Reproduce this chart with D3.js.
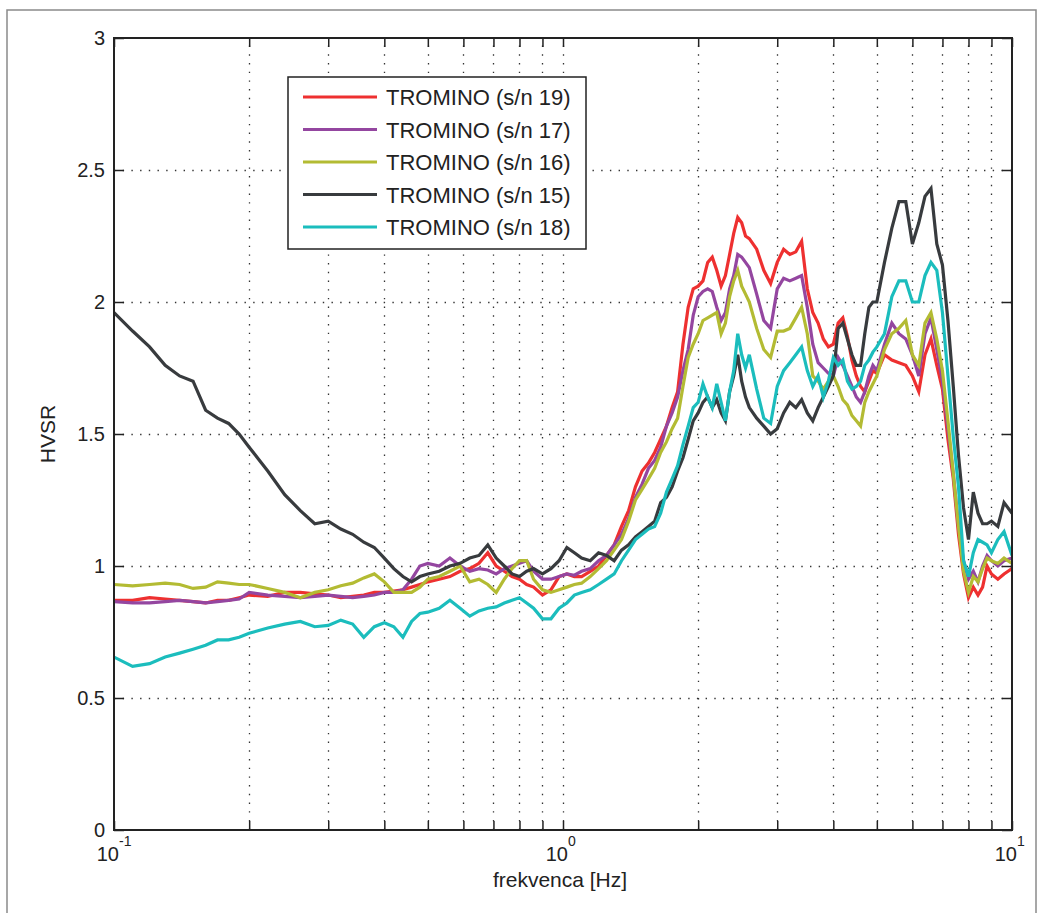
<!DOCTYPE html>
<html>
<head>
<meta charset="utf-8">
<script src="https://cdnjs.cloudflare.com/ajax/libs/d3/7.8.5/d3.min.js"></script>
<style>
body { margin: 0; background: #fff; }
text { font-family: "Liberation Sans", Arial, sans-serif; fill: #222; }
</style>
</head>
<body>
<script>
// frequency grid [Hz]
var freq = [0.10,0.11,0.12,0.13,0.14,0.15,0.16,0.17,0.18,0.19,0.20,
	0.22,0.24,0.26,0.28,0.30,0.32,0.34,0.36,0.38,0.40,0.42,0.44,0.46,0.48,0.50,
	0.53,0.56,0.59,0.62,0.65,0.68,0.71,0.74,0.77,0.80,0.83,0.86,
	0.90,0.94,0.98,1.02,1.06,1.10,
	1.15,1.20,1.25,1.30,1.35,1.40,1.45,1.50,1.55,1.60,1.65,1.70,1.75,1.80,1.85,1.90,1.95,2.00,2.05,2.10,2.15,2.20,2.25,2.30,2.35,2.40,2.45,2.50,2.55,2.60,
	2.70,2.80,2.90,3.00,3.10,3.20,3.30,3.40,3.50,3.60,3.70,3.80,3.90,
	4.0,4.1,4.2,4.3,4.4,4.5,4.6,4.7,4.8,4.9,5.0,
	5.2,5.4,5.6,5.8,6.0,6.2,6.4,6.6,6.8,7.0,7.2,7.4,7.6,7.8,8.0,8.2,8.4,8.6,8.8,9.0,
	9.3,9.6,10.0];

// HVSR curves
var sn19 = [0.87,0.87,0.88,0.875,0.87,0.865,0.86,0.87,0.87,0.88,0.89,
	0.885,0.90,0.90,0.895,0.89,0.88,0.885,0.89,0.90,0.90,0.905,0.91,0.92,0.93,0.94,
	0.95,0.96,0.98,0.99,1.01,1.05,1.00,0.98,0.96,0.95,0.93,0.92,
	0.89,0.91,0.96,0.97,0.96,0.96,
	0.98,1.00,1.04,1.08,1.15,1.21,1.30,1.36,1.39,1.43,1.48,1.53,1.60,1.66,1.84,1.98,2.05,2.06,2.08,2.15,2.17,2.12,2.06,2.10,2.18,2.26,2.32,2.30,2.25,2.24,
	2.20,2.12,2.07,2.15,2.20,2.18,2.19,2.23,2.05,1.96,1.92,1.86,1.83,
	1.84,1.92,1.94,1.87,1.78,1.72,1.68,1.66,1.70,1.74,1.73,
	1.80,1.78,1.77,1.76,1.72,1.66,1.80,1.86,1.76,1.67,1.48,1.33,1.12,0.97,0.88,0.92,0.89,0.92,1.00,0.97,
	0.95,0.97,0.99];

var sn17 = [0.865,0.86,0.86,0.865,0.87,0.865,0.86,0.865,0.87,0.875,0.90,
	0.89,0.885,0.88,0.885,0.89,0.885,0.88,0.885,0.89,0.90,0.90,0.91,0.95,1.00,1.01,
	1.00,1.03,1.00,0.98,0.99,0.985,0.97,0.99,1.00,1.01,1.02,0.98,
	0.95,0.95,0.96,0.97,0.965,0.98,
	0.99,1.02,1.04,1.08,1.12,1.18,1.26,1.31,1.37,1.40,1.45,1.53,1.58,1.64,1.74,1.82,1.95,2.02,2.04,2.05,2.04,1.98,1.93,1.96,2.05,2.10,2.18,2.17,2.15,2.13,
	2.03,1.93,1.90,2.05,2.09,2.08,2.09,2.10,1.98,1.84,1.77,1.75,1.73,
	1.72,1.79,1.76,1.72,1.68,1.64,1.62,1.66,1.72,1.76,1.74,
	1.84,1.92,1.88,1.86,1.80,1.72,1.88,1.94,1.82,1.70,1.52,1.35,1.15,1.02,0.95,0.98,0.94,1.00,1.04,1.02,
	1.00,1.02,1.03];

var sn16 = [0.93,0.925,0.93,0.935,0.93,0.915,0.92,0.94,0.935,0.93,0.93,
	0.915,0.90,0.88,0.90,0.91,0.925,0.935,0.955,0.97,0.94,0.90,0.90,0.90,0.92,0.95,
	0.96,0.98,1.00,0.94,0.95,0.93,0.90,0.95,0.99,1.02,1.02,0.95,
	0.91,0.90,0.91,0.92,0.93,0.935,
	0.96,0.99,1.02,1.06,1.10,1.17,1.25,1.29,1.33,1.37,1.43,1.47,1.52,1.56,1.68,1.79,1.84,1.88,1.93,1.94,1.95,1.96,1.88,1.92,2.02,2.08,2.12,2.06,2.03,2.00,
	1.90,1.82,1.79,1.89,1.89,1.90,1.94,1.98,1.88,1.72,1.70,1.67,1.70,
	1.72,1.68,1.63,1.61,1.57,1.55,1.53,1.62,1.66,1.69,1.72,
	1.82,1.88,1.90,1.93,1.80,1.76,1.92,1.96,1.86,1.74,1.55,1.35,1.15,0.98,0.90,0.96,0.94,0.99,1.03,1.02,
	1.01,1.03,1.01];

var sn15 = [1.96,1.89,1.83,1.76,1.72,1.70,1.59,1.56,1.54,1.50,1.45,
	1.36,1.27,1.21,1.16,1.17,1.14,1.12,1.09,1.07,1.03,0.99,0.96,0.94,0.96,0.97,
	0.98,1.00,1.01,1.03,1.04,1.08,1.03,1.00,0.97,0.96,0.98,0.99,
	0.97,0.99,1.02,1.07,1.05,1.03,
	1.02,1.05,1.04,1.02,1.06,1.08,1.11,1.13,1.15,1.17,1.24,1.26,1.30,1.36,1.41,1.48,1.55,1.58,1.62,1.64,1.60,1.63,1.58,1.55,1.66,1.72,1.80,1.70,1.64,1.60,
	1.56,1.53,1.50,1.52,1.58,1.62,1.60,1.63,1.58,1.55,1.60,1.64,1.68,
	1.72,1.90,1.92,1.86,1.80,1.76,1.76,1.88,1.98,2.00,2.00,
	2.15,2.28,2.38,2.38,2.22,2.30,2.40,2.43,2.22,2.14,1.93,1.68,1.42,1.22,1.10,1.28,1.20,1.16,1.16,1.17,
	1.15,1.24,1.20];

var sn18 = [0.655,0.62,0.63,0.655,0.67,0.685,0.70,0.72,0.72,0.73,0.745,
	0.765,0.78,0.79,0.77,0.775,0.795,0.78,0.73,0.77,0.785,0.77,0.73,0.79,0.82,0.825,
	0.84,0.87,0.84,0.81,0.83,0.84,0.845,0.86,0.87,0.88,0.86,0.84,
	0.80,0.80,0.84,0.86,0.89,0.90,
	0.91,0.93,0.95,0.97,1.02,1.06,1.10,1.12,1.14,1.15,1.20,1.28,1.33,1.38,1.46,1.53,1.60,1.62,1.69,1.64,1.60,1.69,1.62,1.55,1.66,1.74,1.88,1.80,1.75,1.80,
	1.67,1.56,1.54,1.68,1.74,1.77,1.80,1.83,1.74,1.68,1.72,1.64,1.70,
	1.79,1.76,1.78,1.70,1.67,1.68,1.70,1.76,1.78,1.81,1.83,
	1.88,2.02,2.08,2.08,2.00,2.00,2.10,2.15,2.12,1.96,1.72,1.49,1.30,1.02,0.96,1.05,1.10,1.09,1.08,1.05,
	1.10,1.13,1.04];

var seriesNames = ["TROMINO (s/n 19)", "TROMINO (s/n 17)", "TROMINO (s/n 16)", "TROMINO (s/n 15)", "TROMINO (s/n 18)"];
var seriesValues = [sn19, sn17, sn16, sn15, sn18];
var seriesColors = ["#ee3030", "#9446a0", "#b3bb33", "#383b3e", "#1bbdbd"];

var yTicks = [0, 0.5, 1, 1.5, 2, 2.5, 3];
var xTicks = [0.1, 1, 10];
var xTickExp = ["-1", "0", "1"];

function drawChart() {
	var svg = d3.select("body").append("svg").attr("width", 1039).attr("height", 913);

	// outer figure border
	svg.append("rect").attr("x", 7).attr("y", 10).attr("width", 1029).attr("height", 920)
		.attr("fill", "none").attr("stroke", "#8a8a8a").attr("stroke-width", 1.5);

	var left = 114, right = 1012, top = 38, bottom = 830;
	var x = d3.scaleLog().domain([0.1, 10]).range([left, right]);
	var y = d3.scaleLinear().domain([0, 3]).range([bottom, top]);

	// dotted grid
	var grid = svg.append("g").attr("stroke", "#333").attr("stroke-width", 1.3)
		.attr("stroke-dasharray", "1.4,7.3");
	x.ticks().filter(function(d) { return d > 0.1 && d < 10; }).forEach(function(d) {
		grid.append("line").attr("x1", Math.round(x(d)) + 0.5).attr("x2", Math.round(x(d)) + 0.5)
			.attr("y1", bottom).attr("y2", top);
	});
	yTicks.filter(function(d) { return d > 0 && d < 3; }).forEach(function(d) {
		grid.append("line").attr("x1", left).attr("x2", right)
			.attr("y1", Math.round(y(d)) + 0.5).attr("y2", Math.round(y(d)) + 0.5);
	});

	// curves
	svg.append("clipPath").attr("id", "plotclip").append("rect")
		.attr("x", left).attr("y", top).attr("width", right - left).attr("height", bottom - top);

	var line = d3.line()
		.x(function(d) { return x(d[0]); })
		.y(function(d) { return y(d[1]); });

	for (var i = 0; i < seriesValues.length; i++) {
		svg.append("path")
			.datum(d3.zip(freq, seriesValues[i]))
			.attr("clip-path", "url(#plotclip)")
			.attr("fill", "none")
			.attr("stroke", seriesColors[i])
			.attr("stroke-width", 3.2)
			.attr("stroke-linejoin", "miter")
			.attr("d", line);
	}

	// axes (ticks inside, MATLAB style)
	var xAxisB = d3.axisBottom(x).tickValues(x.ticks()).tickSizeInner(-9).tickSizeOuter(0).tickFormat("");
	var xAxisT = d3.axisTop(x).tickValues(x.ticks()).tickSizeInner(-9).tickSizeOuter(0).tickFormat("");
	var yAxisL = d3.axisLeft(y).tickValues(yTicks).tickSizeInner(-10).tickSizeOuter(0).tickPadding(9)
		.tickFormat(function(d) { return String(d); });
	var yAxisR = d3.axisRight(y).tickValues(yTicks).tickSizeInner(-10).tickSizeOuter(0).tickFormat("");

	var gb = svg.append("g").attr("transform", "translate(0," + bottom + ")").call(xAxisB);
	var gt = svg.append("g").attr("transform", "translate(0," + top + ")").call(xAxisT);
	var gl = svg.append("g").attr("transform", "translate(" + left + ",0)").call(yAxisL);
	var gr = svg.append("g").attr("transform", "translate(" + right + ",0)").call(yAxisR);

	[gb, gt, gl, gr].forEach(function(g) {
		g.select(".domain").remove();
		g.selectAll(".tick line").attr("stroke", "#222").attr("stroke-width", 1.5);
	});
	gl.selectAll(".tick text").attr("fill", "#222").style("font-size", "20px")
		.style("font-family", "'Liberation Sans', Arial, sans-serif");

	svg.append("rect").attr("x", left).attr("y", top).attr("width", right - left).attr("height", bottom - top)
		.attr("fill", "none").attr("stroke", "#222").attr("stroke-width", 2);

	// x tick labels 10^n
	for (var k = 0; k < xTicks.length; k++) {
		var tx = x(xTicks[k]) + 5;
		svg.append("text").attr("x", tx).attr("y", 861).attr("text-anchor", "end")
			.style("font-size", "20px").text("10");
		svg.append("text").attr("x", tx).attr("y", 846).attr("text-anchor", "start")
			.style("font-size", "14px").text(xTickExp[k]);
	}

	// axis titles
	svg.append("text").attr("x", 560).attr("y", 887).attr("text-anchor", "middle")
		.style("font-size", "21px").text("frekvenca [Hz]");
	svg.append("text").attr("transform", "translate(55,434) rotate(-90)").attr("text-anchor", "middle")
		.style("font-size", "21px").text("HVSR");

	// legend
	var legend = svg.append("g");
	legend.append("rect").attr("x", 288).attr("y", 77).attr("width", 298).attr("height", 172)
		.attr("fill", "#fff").attr("stroke", "#222").attr("stroke-width", 1.5);
	for (var j = 0; j < seriesNames.length; j++) {
		var ly = 97 + j * 32.5;
		legend.append("line").attr("x1", 303).attr("x2", 377).attr("y1", ly).attr("y2", ly)
			.attr("stroke", seriesColors[j]).attr("stroke-width", 3);
		legend.append("text").attr("x", 386).attr("y", ly + 8)
			.style("font-size", "22px").text(seriesNames[j]);
	}
}

drawChart();
</script>
</body>
</html>
